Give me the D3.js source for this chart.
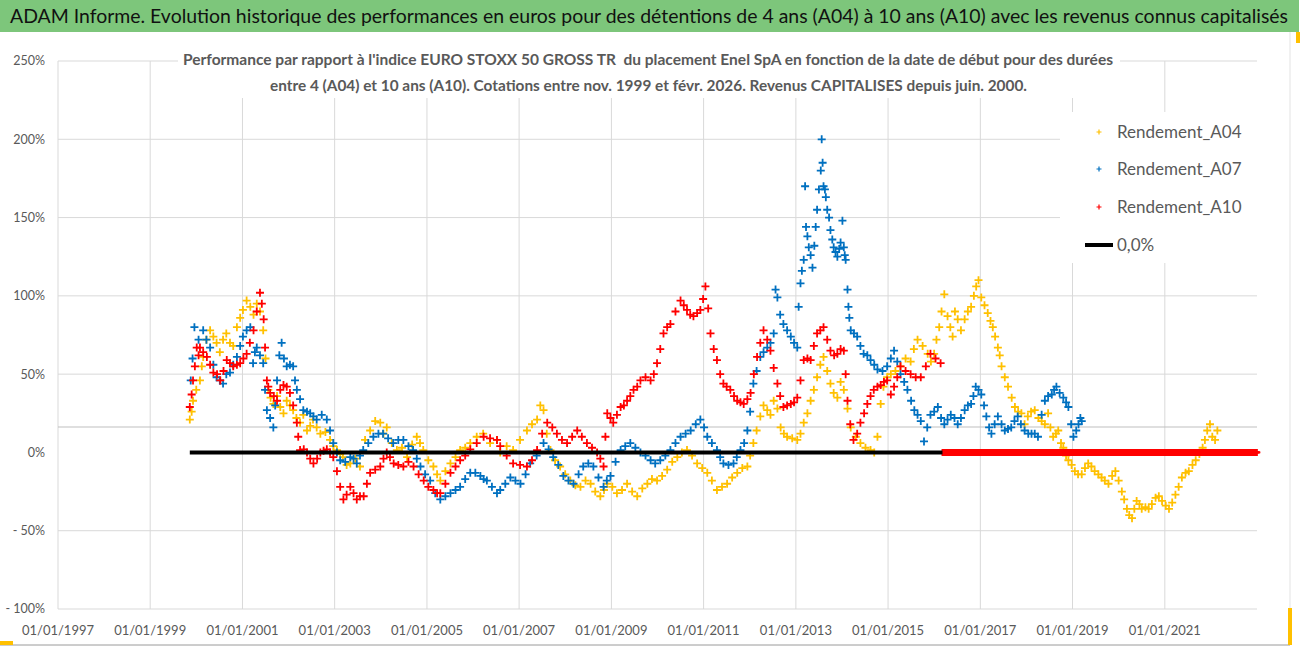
<!DOCTYPE html>
<html>
<head>
<meta charset="utf-8">
<script src="https://cdn.jsdelivr.net/npm/d3@7"></script>
<style>
  body { margin: 0; background: #fff; }
  svg { display: block; }
</style>
</head>
<body>
<div id="chart"></div>
<script>
// ---- data ----
const titleText = "ADAM Informe. Evolution historique des performances en euros pour des détentions de 4 ans (A04) à 10 ans (A10) avec les revenus connus capitalisés";
const subtitleLines = [
  "Performance par rapport à l'indice EURO STOXX 50 GROSS TR  du placement Enel SpA en fonction de la date de début pour des durées",
  "entre 4 (A04) et 10 ans (A10). Cotations entre nov. 1999 et févr. 2026. Revenus CAPITALISES depuis juin. 2000."
];
const seriesNames = ["Rendement_A04", "Rendement_A07", "Rendement_A10"];
const zeroName = "0,0%";
const xTickYears = [1997, 1999, 2001, 2003, 2005, 2007, 2009, 2011, 2013, 2015, 2017, 2019, 2021];
const yTicks = [-100, -50, 0, 50, 100, 150, 200, 250];

// [start date as decimal year, performance in %]
const a04 = [
  [1999.86,21],[1999.93,33],[2000.08,46],[2000.15,61],[2000.30,78],[2000.44,70],[2000.58,72],[2000.73,70],
  [2000.88,80],[2001.01,91],[2001.17,93],[2001.31,95],[2001.45,78],[2001.56,40],[2001.67,31],[2001.82,29],
  [2001.96,33],[2002.10,27],[2002.25,19],[2002.40,14],[2002.53,21],[2002.69,12],[2002.90,8],[2003.05,1.5],
  [2003.18,-3],[2003.34,-7],[2003.55,-9],[2003.77,14],[2003.99,19],[2004.13,16],[2004.35,1.5],[2004.57,-3],
  [2004.78,10],[2004.92,1.5],[2005.14,-9],[2005.29,-18],[2005.51,-7],[2005.72,1.5],[2005.94,6],[2006.22,12],
  [2006.52,8],[2006.59,0],[2006.87,1.5],[2007.17,14],[2007.39,21],[2007.53,27],[2007.68,1.5],[2007.89,-9],
  [2008.11,-18],[2008.33,-22],[2008.55,-20],[2008.76,-28],[2008.91,-20],[2009.12,-26],[2009.34,-20],[2009.56,-28],
  [2009.78,-20],[2009.99,-18],[2010.21,-11],[2010.43,-3],[2010.64,1.5],[2010.86,-7],[2011.08,-13],[2011.29,-24],
  [2011.51,-20],[2011.73,-13],[2011.95,-9],[2012.08,6],[2012.23,23],[2012.38,27],[2012.52,33],[2012.67,16],
  [2012.81,10],[2013.03,8],[2013.17,19],[2013.32,33],[2013.46,48],[2013.60,61],[2013.75,44],[2013.90,35],
  [2014.04,40],[2014.19,16],[2014.40,6],[2014.62,1.5],[2014.77,10],[2014.84,31],[2014.90,42],[2015.06,50],
  [2015.27,55],[2015.49,58],[2015.64,72],[2015.86,63],[2016.00,63],[2016.11,80],[2016.22,101],[2016.29,87],
  [2016.40,74],[2016.51,85],[2016.66,85],[2016.80,93],[2016.91,106],[2017.02,99],[2017.16,89],[2017.27,80],
  [2017.38,67],[2017.46,55],[2017.60,42],[2017.75,29],[2017.89,25],[2018.03,23],[2018.18,27],[2018.33,20],
  [2018.47,25],[2018.58,10],[2018.69,14],[2018.80,3],[2018.91,-5],[2019.05,-12],[2019.20,-14],[2019.34,-7],
  [2019.48,-12],[2019.63,-16],[2019.78,-20],[2019.93,-12],[2020.07,-25],[2020.18,-36],[2020.29,-42],[2020.39,-31],
  [2020.50,-36],[2020.65,-36],[2020.80,-29],[2020.94,-31],[2021.09,-36],[2021.23,-27],[2021.37,-16],[2021.52,-12],
  [2021.67,-5],[2021.82,3],[2021.92,14],[2022.03,10],[2022.14,14],
  [1999.90,26],[2000.00,40],[2000.12,55],[2000.22,72],[2000.37,74],[2000.51,64],[2000.65,76],[2000.80,68],
  [2000.95,86],[2001.09,97],[2001.24,88],[2001.38,90],[2001.50,60],[2001.61,35],[2001.75,36],[2001.89,25],
  [2002.03,30],[2002.17,22],[2002.32,24],[2002.47,17],[2002.61,16],[2002.80,13],[2002.97,4],[2003.12,-1],
  [2003.26,-8],[2003.45,-4],[2003.66,8],[2003.88,20],[2004.06,12],[2004.24,6],[2004.46,3],[2004.68,5],
  [2004.85,6],[2005.03,-5],[2005.22,-14],[2005.40,-12],[2005.62,-3],[2005.83,3],[2006.08,10],[2006.37,6],
  [2006.73,4],[2007.02,8],[2007.28,18],[2007.46,30],[2007.60,12],[2007.78,-5],[2008.00,-14],[2008.22,-21],
  [2008.44,-18],[2008.65,-25],[2008.84,-24],[2009.02,-22],[2009.23,-24],[2009.45,-25],[2009.67,-23],[2009.88,-17],
  [2010.10,-15],[2010.32,-6],[2010.53,0],[2010.75,-2],[2010.97,-10],[2011.18,-18],[2011.40,-22],[2011.62,-16],
  [2011.84,-10],[2012.01,-2],[2012.15,14],[2012.30,30],[2012.45,24],[2012.60,28],[2012.74,12],[2012.92,9],
  [2013.10,12],[2013.25,25],[2013.39,40],[2013.53,56],[2013.68,52],[2013.82,38],[2013.97,45],[2014.12,28],
  [2014.30,10],[2014.51,3],[2014.70,0],[2014.98,48],[2015.16,52],[2015.38,60],[2015.56,66],[2015.75,68],
  [2015.93,58],[2016.05,72],[2016.16,90],[2016.35,80],[2016.45,90],[2016.58,78],[2016.73,90],[2016.86,100],
  [2016.96,110],[2017.09,94],[2017.22,84],[2017.32,74],[2017.42,62],[2017.53,48],[2017.68,35],[2017.82,26],
  [2017.96,18],[2018.10,26],[2018.26,22],[2018.40,18],[2018.52,16],[2018.64,12],[2018.75,6],[2018.86,-2],
  [2018.98,-8],[2019.12,-14],[2019.27,-10],[2019.41,-9],[2019.56,-14],[2019.70,-18],[2019.86,-15],[2020.00,-18],
  [2020.12,-30],[2020.23,-40],[2020.34,-36],[2020.45,-33],[2020.58,-35],[2020.72,-33],[2020.87,-28],[2021.02,-34],
  [2021.16,-32],[2021.30,-22],[2021.45,-13],[2021.60,-8],[2021.75,-1],[2021.87,8],[2021.98,18],[2022.09,8]
];

const a07 = [
  [1999.88,46],[1999.96,80],[2000.15,78],[2000.30,67],[2000.44,48],[2000.58,44],[2000.73,51],[2000.88,61],
  [2001.01,74],[2001.17,80],[2001.23,57],[2001.31,67],[2001.45,57],[2001.53,27],[2001.67,16],[2001.75,46],
  [2001.85,70],[2001.96,55],[2002.10,55],[2002.18,40],[2002.32,27],[2002.47,25],[2002.61,21],[2002.83,21],
  [2002.97,6],[2003.12,-5],[2003.34,-3],[2003.48,-7],[2003.62,1.5],[2003.84,10],[2004.05,12],[2004.27,6],
  [2004.49,8],[2004.70,1.5],[2004.86,-9],[2005.07,-18],[2005.29,-30],[2005.51,-26],[2005.72,-22],[2005.94,-13],
  [2006.16,-15],[2006.30,-18],[2006.52,-26],[2006.59,-24],[2006.81,-16],[2007.03,-20],[2007.24,-7],[2007.53,6],
  [2007.74,-3],[2007.96,-15],[2008.18,-20],[2008.39,-9],[2008.61,-9],[2008.83,-22],[2008.98,-15],[2009.20,1.5],
  [2009.41,6],[2009.63,0],[2009.85,-5],[2010.06,-5],[2010.28,1.5],[2010.50,10],[2010.72,14],[2010.93,21],
  [2011.08,10],[2011.29,1.5],[2011.43,-7],[2011.65,-7],[2011.80,1.5],[2011.95,14],[2012.08,44],[2012.23,61],
  [2012.38,67],[2012.52,76],[2012.56,104],[2012.60,99],[2012.73,82],[2012.89,74],[2013.03,67],[2013.06,93],
  [2013.10,108],[2013.17,123],[2013.20,170],[2013.22,144],[2013.28,131],[2013.36,118],[2013.43,144],[2013.46,155],
  [2013.54,180],[2013.56,200],[2013.60,170],[2013.65,163],[2013.68,155],[2013.75,142],[2013.82,131],[2013.90,125],
  [2013.97,134],[2014.01,148],[2014.04,131],[2014.08,123],[2014.12,104],[2014.14,93],[2014.19,78],[2014.33,74],
  [2014.47,63],[2014.62,59],[2014.77,53],[2014.98,55],[2015.13,65],[2015.27,50],[2015.42,40],[2015.57,27],
  [2015.71,20],[2015.78,7],[2015.92,24],[2016.08,29],[2016.22,18],[2016.36,24],[2016.51,18],[2016.66,27],
  [2016.80,31],[2016.90,42],[2017.02,37],[2017.13,23],[2017.24,12],[2017.38,23],[2017.53,14],[2017.67,16],
  [2017.81,23],[2017.96,14],[2018.11,12],[2018.25,10],[2018.40,33],[2018.55,37],[2018.65,42],[2018.80,35],
  [2018.91,29],[2019.02,10],[2019.13,18],[2019.20,20],
  [1999.92,60],[2000.05,72],[2000.22,72],[2000.37,56],[2000.51,46],[2000.65,50],[2000.80,56],[2000.95,68],
  [2001.09,78],[2001.27,64],[2001.38,62],[2001.49,40],[2001.60,22],[2001.71,30],[2001.80,62],[2001.90,60],
  [2002.03,56],[2002.14,46],[2002.25,34],[2002.40,26],[2002.54,23],[2002.72,24],[2002.90,14],[2003.05,0],
  [2003.23,-6],[2003.41,-4],[2003.55,-2],[2003.73,6],[2003.95,12],[2004.16,9],[2004.38,8],[2004.60,4],
  [2004.78,-4],[2004.96,-14],[2005.18,-26],[2005.40,-28],[2005.62,-24],[2005.83,-17],[2006.05,-13],[2006.23,-17],
  [2006.41,-22],[2006.70,-20],[2006.92,-18],[2007.14,-14],[2007.38,-2],[2007.64,2],[2007.85,-8],[2008.07,-18],
  [2008.29,-14],[2008.50,-7],[2008.72,-16],[2008.90,-18],[2009.09,-6],[2009.30,4],[2009.52,3],[2009.74,-2],
  [2009.95,-7],[2010.17,-2],[2010.39,6],[2010.61,12],[2010.83,18],[2011.01,16],[2011.18,6],[2011.36,-3],
  [2011.54,-8],[2011.72,-3],[2011.88,6],[2012.01,26],[2012.15,52],[2012.30,64],[2012.45,70],[2012.66,88],
  [2012.81,78],[2012.96,70],[2013.13,116],[2013.25,138],[2013.32,126],[2013.40,132],[2013.50,168],[2013.58,185],
  [2013.63,168],[2013.72,150],[2013.79,136],[2013.86,128],[2013.94,130],[2014.06,126],[2014.16,86],[2014.26,76],
  [2014.40,68],[2014.55,62],[2014.70,56],[2014.88,52],[2015.06,60],[2015.20,58],[2015.35,45],[2015.50,33],
  [2015.64,24],[2015.85,16],[2016.00,26],[2016.15,22],[2016.29,21],[2016.44,22],[2016.58,22],[2016.73,30],
  [2016.85,36],[2016.96,40],[2017.08,30],[2017.19,16],[2017.31,18],[2017.46,18],[2017.60,15],[2017.74,20],
  [2017.88,18],[2018.04,12],[2018.18,12],[2018.33,24],[2018.47,36],[2018.60,40],[2018.72,38],[2018.86,32],
  [2018.97,18],[2019.08,14],[2019.17,22]
];

const a10 = [
  [1999.86,29],[1999.93,46],[2000.01,67],[2000.08,67],[2000.23,61],[2000.37,51],[2000.52,46],[2000.66,59],
  [2000.80,55],[2000.95,57],[2001.09,63],[2001.24,78],[2001.38,102],[2001.46,85],[2001.49,67],[2001.53,46],
  [2001.60,38],[2001.75,33],[2001.89,43],[2002.03,38],[2002.18,19],[2002.25,1.5],[2002.40,0],[2002.54,-7],
  [2002.69,0],[2002.83,2],[2002.97,-3],[2003.12,-22],[2003.19,-30],[2003.34,-22],[2003.48,-30],[2003.63,-28],
  [2003.77,-13],[2003.99,-9],[2004.13,0],[2004.28,-7],[2004.49,-9],[2004.71,-9],[2004.93,-18],[2005.14,-24],
  [2005.29,-26],[2005.51,-13],[2005.72,-5],[2005.94,2],[2006.23,10],[2006.52,8],[2006.59,4],[2006.87,-7],
  [2007.17,-9],[2007.39,1.5],[2007.61,19],[2007.82,12],[2008.04,6],[2008.26,14],[2008.47,6],[2008.69,0],
  [2008.83,-9],[2008.91,25],[2009.04,19],[2009.20,29],[2009.34,33],[2009.48,40],[2009.63,46],[2009.85,46],
  [2009.99,57],[2010.13,76],[2010.28,82],[2010.50,97],[2010.64,91],[2010.78,87],[2010.93,91],[2011.04,106],
  [2011.15,76],[2011.29,59],[2011.43,44],[2011.58,40],[2011.73,33],[2011.87,31],[2012.02,38],[2012.16,61],
  [2012.30,78],[2012.45,65],[2012.60,44],[2012.73,29],[2012.89,31],[2013.03,35],[2013.17,59],[2013.32,59],
  [2013.46,76],[2013.60,80],[2013.75,65],[2013.90,63],[2014.04,65],[2014.12,33],[2014.25,8],[2014.40,19],
  [2014.55,31],[2014.69,40],[2014.84,43],[2014.98,46],[2015.06,37],[2015.20,48],[2015.27,55],[2015.49,50],
  [2015.71,48],[2015.92,63],[2016.14,57],
  [1999.90,37],[1999.97,55],[2000.05,62],[2000.15,64],[2000.30,56],[2000.45,50],[2000.59,52],[2000.73,57],
  [2000.88,56],[2001.02,60],[2001.16,70],[2001.31,90],[2001.42,95],[2001.56,42],[2001.68,36],[2001.82,40],
  [2001.96,42],[2002.10,30],[2002.21,10],[2002.33,2],[2002.47,-4],[2002.62,-4],[2002.76,1],[2002.90,0],
  [2003.05,-12],[2003.26,-27],[2003.41,-26],[2003.55,-28],[2003.70,-20],[2003.88,-11],[2004.06,-4],[2004.20,-3],
  [2004.38,-8],[2004.60,-6],[2004.82,-14],[2005.03,-22],[2005.22,-26],[2005.40,-20],[2005.62,-9],[2005.83,-2],
  [2006.08,6],[2006.37,9],[2006.73,-2],[2007.02,-8],[2007.28,-5],[2007.50,12],[2007.72,16],[2007.93,8],
  [2008.15,10],[2008.36,10],[2008.58,3],[2008.76,-4],[2008.87,10],[2008.98,22],[2009.12,24],[2009.27,30],
  [2009.41,36],[2009.56,42],[2009.74,48],[2009.92,50],[2010.06,66],[2010.21,80],[2010.39,90],[2010.57,94],
  [2010.71,88],[2010.86,89],[2010.99,98],[2011.10,92],[2011.22,66],[2011.36,50],[2011.50,42],[2011.66,36],
  [2011.80,32],[2011.95,34],[2012.09,50],[2012.23,70],[2012.38,72],[2012.52,54],[2012.66,36],[2012.81,30],
  [2012.96,32],[2013.10,46],[2013.25,60],[2013.39,68],[2013.53,78],[2013.68,72],[2013.83,62],[2013.97,66],
  [2014.08,50],[2014.18,18],[2014.33,12],[2014.48,25],[2014.62,36],[2014.77,42],[2014.91,45],[2015.13,42],
  [2015.38,52],[2015.60,48],[2015.82,55],[2016.03,60]
];

// A10 has no value after this date and is shown as 0 up to the axis end
const a10ZeroSpan = [2016.18, 2023.0];
// black 0% reference line
const zeroLineSpan = [1999.86, 2016.18];
const xDomainYears = [1997, 2023];

// ---- layout ----
const W = 1302, H = 647;
const plot = { left: 58, right: 1257, top: 61, bottom: 609 };
const colors = ["#FFC000", "#0070C0", "#FF0000"];
const font = "Lato, 'Open Sans', Arial, sans-serif";

function toDate(dy) {
  const y = Math.floor(dy);
  const a = new Date(y, 0, 1), b = new Date(y + 1, 0, 1);
  return new Date(+a + (dy - y) * (b - a));
}

const x = d3.scaleTime()
  .domain(xDomainYears.map(toDate))
  .range([plot.left, plot.right]);
const y = d3.scaleLinear()
  .domain([-100, 250])
  .range([plot.bottom, plot.top]);

const svg = d3.select("#chart").append("svg")
  .attr("width", W).attr("height", H)
  .attr("font-family", font);

svg.append("rect").attr("width", W).attr("height", H).attr("fill", "#fff");

// title bar
svg.append("rect").attr("x", 0).attr("y", 0).attr("width", 1299).attr("height", 32).attr("fill", "#7DC67B");
svg.append("text")
  .attr("x", 10).attr("y", 23)
  .attr("font-size", 18.5).attr("fill", "#111")
  .attr("textLength", 1278).attr("lengthAdjust", "spacingAndGlyphs")
  .text(titleText);

// frame bits
svg.append("line").attr("x1", 0).attr("x2", 1290).attr("y1", 645).attr("y2", 645).attr("stroke", "#9a9a9a");
svg.append("line").attr("x1", 1290).attr("x2", 1290).attr("y1", 32).attr("y2", 645).attr("stroke", "#e3e3e3");
svg.append("rect").attr("x", 0).attr("y", 641).attr("width", 13).attr("height", 4).attr("fill", "#FFC000");
svg.append("rect").attr("x", 1288).attr("y", 608).attr("width", 4).attr("height", 37).attr("fill", "#FFC000");
svg.append("rect").attr("x", 1296).attr("y", 32).attr("width", 4).attr("height", 11).attr("fill", "#FFC000");

// gridlines
const grid = svg.append("g");
grid.selectAll("line.v")
  .data(xTickYears)
  .join("line")
  .attr("x1", d => x(toDate(d))).attr("x2", d => x(toDate(d)))
  .attr("y1", plot.top).attr("y2", plot.bottom)
  .attr("stroke", "#d9d9d9");
grid.selectAll("line.h")
  .data(yTicks.filter(d => d !== 0))
  .join("line")
  .attr("x1", plot.left).attr("x2", plot.right)
  .attr("y1", d => y(d)).attr("y2", d => y(d))
  .attr("stroke", "#d9d9d9");
// horizontal axis line (crosses the value axis above 0)
grid.append("line")
  .attr("x1", plot.left).attr("x2", plot.right)
  .attr("y1", 427).attr("y2", 427)
  .attr("stroke", "#bfbfbf");

// axis labels
const yFmt = d => (d < 0 ? "- " + Math.abs(d) : d) + "%";
svg.append("g").selectAll("text")
  .data(yTicks)
  .join("text")
  .attr("x", 45).attr("y", d => y(d)).attr("dy", "0.35em")
  .attr("text-anchor", "end").attr("font-size", 12.5).attr("fill", "#595959")
  .text(yFmt);

svg.append("g").selectAll("text")
  .data(xTickYears)
  .join("text")
  .attr("x", d => x(toDate(d))).attr("y", 635)
  .attr("text-anchor", "middle").attr("font-size", 13).attr("fill", "#595959")
  .text(d => d3.timeFormat("%d/%m/%Y")(toDate(d)));

// subtitle with white background
const sub = svg.append("g");
sub.append("rect").attr("x", 178).attr("y", 46).attr("width", 942).attr("height", 52).attr("fill", "#fff");
const subX = [183, 270], subLen = [930, 757], subY = [65, 91];
sub.selectAll("text")
  .data(subtitleLines)
  .join("text")
  .attr("x", (d, i) => subX[i]).attr("y", (d, i) => subY[i])
  .attr("font-size", 15.5).attr("font-weight", "bold").attr("fill", "#595959")
  .attr("textLength", (d, i) => subLen[i]).attr("lengthAdjust", "spacingAndGlyphs")
  .style("white-space", "pre")
  .text(d => d);

// scatter series
const plus = s => `M${-s},0H${s}M0,${-s}V${s}`;
const series = [a04, a07, a10];
series.forEach((data, i) => {
  svg.append("g")
    .selectAll("path")
    .data(data)
    .join("path")
    .attr("transform", d => `translate(${x(toDate(d[0]))},${y(d[1])})`)
    .attr("d", plus(4))
    .attr("stroke", colors[i])
    .attr("stroke-width", 1.8)
    .attr("fill", "none");
});

// A10 zeros
const zeroDates = d3.timeDay.every(3).range(toDate(a10ZeroSpan[0]), toDate(a10ZeroSpan[1]));
svg.append("g")
  .selectAll("path")
  .data(zeroDates)
  .join("path")
  .attr("transform", d => `translate(${x(d)},${y(0)})`)
  .attr("d", plus(3.5))
  .attr("stroke", colors[2])
  .attr("stroke-width", 1.8);

// black 0% line
svg.append("path")
  .datum(zeroLineSpan)
  .attr("d", d3.line().x(d => x(toDate(d))).y(() => y(0)))
  .attr("stroke", "#000").attr("stroke-width", 4).attr("fill", "none");

// legend
const leg = svg.append("g");
leg.append("rect").attr("x", 1060).attr("y", 112).attr("width", 228).attr("height", 151).attr("fill", "#fff");
const legY = [132, 169, 207];
seriesNames.forEach((name, i) => {
  leg.append("path")
    .attr("transform", `translate(1099,${legY[i]})`)
    .attr("d", plus(2.5)).attr("stroke", colors[i]).attr("stroke-width", 1.2);
  leg.append("text")
    .attr("x", 1117).attr("y", legY[i]).attr("dy", "0.35em")
    .attr("font-size", 17).attr("fill", "#595959")
    .text(name);
});
leg.append("line").attr("x1", 1085).attr("x2", 1113).attr("y1", 245).attr("y2", 245)
  .attr("stroke", "#000").attr("stroke-width", 4);
leg.append("text")
  .attr("x", 1117).attr("y", 245).attr("dy", "0.35em")
  .attr("font-size", 17).attr("fill", "#595959")
  .text(zeroName);
</script>
</body>
</html>
